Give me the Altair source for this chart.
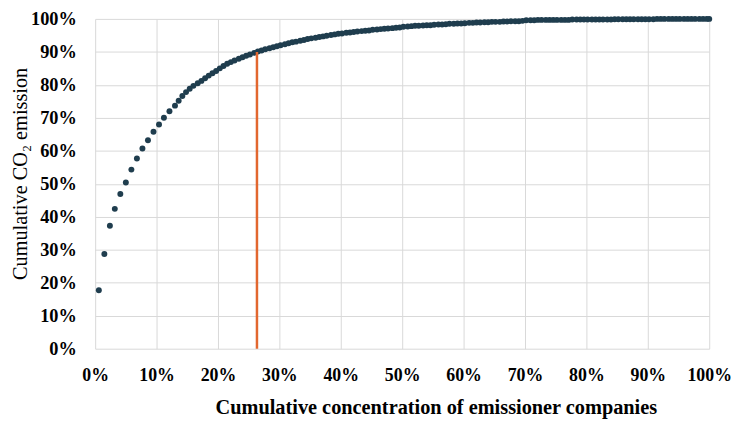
import altair as alt
import pandas as pd

# Cumulative concentration of emissioner companies (%)
x_pct = [
    0.6, 1.5, 2.4, 3.2, 4.1, 5.0, 5.9, 6.8, 7.7, 8.6, 9.5, 10.4, 11.2, 12.1, 13.0,
    13.6, 14.2, 14.8, 15.4, 16.0, 16.7, 17.3, 17.9, 18.5, 19.1, 19.7, 20.3, 20.9,
    21.5, 22.1, 22.7, 23.4, 24.0, 24.6, 25.2, 25.9, 26.5, 27.1, 27.7, 28.4, 29.0, 29.6, 30.2, 30.9,
    31.5, 32.1, 32.7, 33.4, 34.0, 34.6, 35.2, 35.9, 36.5, 37.1, 37.7, 38.4, 39.0, 39.6, 40.2, 40.9,
    41.5, 42.1, 42.7, 43.4, 44.0, 44.6, 45.2, 45.9, 46.5, 47.1, 47.7, 48.4, 49.0, 49.6, 50.2, 50.9,
    51.5, 52.1, 52.7, 53.4, 54.0, 54.6, 55.2, 55.9, 56.5, 57.1, 57.7, 58.4, 59.0, 59.6, 60.2, 60.9,
    61.5, 62.1, 62.7, 63.4, 64.0, 64.6, 65.2, 65.9, 66.5, 67.1, 67.7, 68.4, 69.0, 69.6, 70.2, 70.9,
    71.5, 72.1, 72.7, 73.4, 74.0, 74.6, 75.2, 75.9, 76.5, 77.1, 77.7, 78.4, 79.0, 79.6, 80.2, 80.9,
    81.5, 82.1, 82.7, 83.4, 84.0, 84.6, 85.2, 85.9, 86.5, 87.1, 87.7, 88.4, 89.0, 89.6, 90.2, 90.9,
    91.5, 92.1, 92.7, 93.4, 94.0, 94.6, 95.2, 95.9, 96.5, 97.1, 97.7, 98.4, 99.0, 99.6, 100.0,
]

# Cumulative CO2 emission (%)
y_pct = [
    17.7, 28.7, 37.3, 42.4, 46.9, 50.4, 54.3, 57.7, 60.7, 63.2, 65.8, 68.0, 70.0, 72.0, 73.7,
    75.2, 76.6, 77.8, 78.8, 79.7, 80.5, 81.2, 82.0, 82.8, 83.5, 84.2, 85.0, 85.7,
    86.4, 86.9, 87.4, 87.9, 88.4, 88.8, 89.2, 89.7, 90.1, 90.4, 90.8, 91.1, 91.4, 91.7, 92.0, 92.3,
    92.6, 92.9, 93.1, 93.4, 93.6, 93.9, 94.1, 94.3, 94.5, 94.7, 94.9, 95.1, 95.3, 95.5, 95.6, 95.8,
    95.9, 96.0, 96.2, 96.3, 96.4, 96.5, 96.7, 96.8, 96.9, 97.0, 97.1, 97.2, 97.3, 97.4, 97.6, 97.7,
    97.8, 97.9, 97.9, 98.0, 98.1, 98.1, 98.2, 98.3, 98.3, 98.4, 98.5, 98.5, 98.6, 98.6, 98.7, 98.8,
    98.8, 98.9, 98.9, 99.0, 99.0, 99.1, 99.1, 99.1, 99.2, 99.2, 99.3, 99.3, 99.3, 99.4, 99.6, 99.6,
    99.6, 99.7, 99.7, 99.7, 99.7, 99.7, 99.7, 99.7, 99.7, 99.7, 99.8, 99.8, 99.8, 99.8, 99.8, 99.8,
    99.8, 99.8, 99.8, 99.8, 99.8, 99.9, 99.9, 99.9, 99.9, 99.9, 99.9, 99.9, 99.9, 99.9, 99.9, 99.9,
    100.0, 100.0, 100.0, 100.0, 100.0, 100.0, 100.0, 100.0, 100.0, 100.0, 100.0, 100.0, 100.0, 100.0, 100.0,
]

threshold_x = [26.35]
threshold_y = [90.0]

tick_values = [0, 10, 20, 30, 40, 50, 60, 70, 80, 90, 100]

df = pd.DataFrame({"x": x_pct, "y": y_pct})
rule_df = pd.DataFrame({"x": threshold_x, "y0": [0.0], "y": threshold_y})

FONT = "Liberation Serif"

x_scale = alt.Scale(domain=[0, 100], nice=False, zero=True)
y_scale = alt.Scale(domain=[0, 100], nice=False)

x_axis = alt.Axis(
    values=tick_values,
    labelExpr="datum.value + '%'",
    title="Cumulative concentration of emissioner companies",
    titleFont=FONT, titleFontSize=20.5, titleFontWeight="bold", titleColor="#000000",
    titleX=344, titleY=49, titleAlign="center", titleBaseline="top",
    labelFont=FONT, labelFontSize=18, labelFontWeight="bold", labelColor="#000000",
    labelPadding=18, ticks=False, domain=False,
    labelOverlap=False, labelFlush=False, labelBound=False,
    grid=True, gridColor="#D9D9D9", gridWidth=1,
)
y_axis = alt.Axis(
    values=tick_values,
    labelExpr="datum.value + '%'",
    title="Cumulative CO₂ emission",
    titleFont=FONT, titleFontSize=20.5, titleFontWeight="normal", titleColor="#000000",
    titleX=-65, titleY=156, titleAngle=270, titleAlign="center", titleBaseline="bottom",
    labelFont=FONT, labelFontSize=18.5, labelFontWeight="bold", labelColor="#000000",
    labelPadding=19, ticks=False, domain=False,
    labelOverlap=False, labelFlush=False, labelBound=False,
    grid=True, gridColor="#D9D9D9", gridWidth=1,
)

points = alt.Chart(df).mark_circle(size=36, color="#1F3D4E", opacity=1).encode(
    x=alt.X("x:Q", scale=x_scale, axis=x_axis),
    y=alt.Y("y:Q", scale=y_scale, axis=y_axis),
)

rule = alt.Chart(rule_df).mark_rule(color="#E2672F", strokeWidth=2.5).encode(
    x=alt.X("x:Q", scale=x_scale, axis=x_axis),
    y=alt.Y("y0:Q", scale=y_scale, axis=y_axis),
    y2="y:Q",
)

chart = (
    (points + rule)
    .properties(
        width=620,
        height=333,
        autosize=alt.AutoSizeParams(type="none"),
        padding={"left": 88, "top": 9, "right": 23, "bottom": 72},
    )
    .configure_view(stroke=None)
    .configure_axis(labelOverlap=False)
)

chart.save("out.html", embed_options={"renderer": "svg", "actions": False})
